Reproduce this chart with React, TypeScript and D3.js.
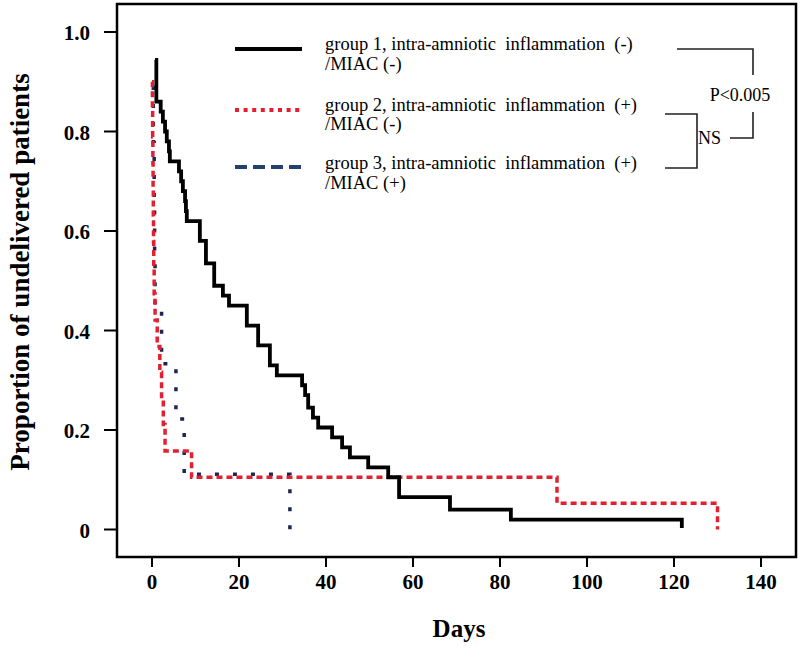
import * as d3 from "d3";

type Pt = { t: number; s: number };

// Kaplan-Meier steps: [day, proportion after the drop]
const GROUP1: Pt[] = [
  { t: 0.7, s: 0.944 }, { t: 1.0, s: 0.86 }, { t: 2.0, s: 0.84 }, { t: 2.5, s: 0.82 },
  { t: 3.0, s: 0.8 }, { t: 3.4, s: 0.78 }, { t: 3.9, s: 0.76 }, { t: 4.1, s: 0.74 },
  { t: 6.2, s: 0.72 }, { t: 6.7, s: 0.7 }, { t: 7.1, s: 0.68 }, { t: 7.6, s: 0.66 },
  { t: 7.8, s: 0.64 }, { t: 8.0, s: 0.62 }, { t: 11.0, s: 0.58 }, { t: 12.4, s: 0.535 },
  { t: 14.3, s: 0.49 }, { t: 16.3, s: 0.47 }, { t: 17.7, s: 0.45 }, { t: 21.8, s: 0.41 },
  { t: 24.4, s: 0.37 }, { t: 27.1, s: 0.33 }, { t: 28.7, s: 0.31 }, { t: 34.5, s: 0.29 },
  { t: 35.2, s: 0.27 }, { t: 35.9, s: 0.245 }, { t: 37.0, s: 0.225 }, { t: 38.2, s: 0.205 },
  { t: 41.4, s: 0.185 }, { t: 43.7, s: 0.165 }, { t: 45.5, s: 0.145 }, { t: 49.7, s: 0.125 },
  { t: 54.3, s: 0.105 }, { t: 56.8, s: 0.065 }, { t: 68.5, s: 0.04 }, { t: 82.5, s: 0.02 },
  { t: 121.8, s: 0.003 },
];

const GROUP2: Pt[] = [
  { t: 0.0, s: 0.9 }, { t: 0.1, s: 0.842 }, { t: 0.15, s: 0.789 }, { t: 0.2, s: 0.737 },
  { t: 0.25, s: 0.684 }, { t: 0.3, s: 0.632 }, { t: 0.35, s: 0.579 }, { t: 0.4, s: 0.526 },
  { t: 0.5, s: 0.474 }, { t: 0.7, s: 0.421 }, { t: 1.2, s: 0.368 }, { t: 1.8, s: 0.316 },
  { t: 2.2, s: 0.263 }, { t: 2.6, s: 0.211 }, { t: 3.0, s: 0.158 }, { t: 9.1, s: 0.105 },
  { t: 93.1, s: 0.053 }, { t: 130.0, s: 0.0 },
];

const GROUP3: Pt[] = [
  { t: 0.0, s: 0.889 }, { t: 0.3, s: 0.778 }, { t: 0.5, s: 0.667 }, { t: 0.6, s: 0.556 },
  { t: 0.7, s: 0.444 }, { t: 2.2, s: 0.333 }, { t: 5.5, s: 0.222 }, { t: 7.4, s: 0.111 },
  { t: 31.7, s: 0.0 },
];

const X_TICKS = [0, 20, 40, 60, 80, 100, 120, 140];
const Y_TICKS = [0, 0.2, 0.4, 0.6, 0.8, 1.0];
const Y_TICK_LABELS = ["0", "0.2", "0.4", "0.6", "0.8", "1.0"];

const LEGEND_LINE1 = [
  "group 1, intra-amniotic  inflammation  (-)",
  "group 2, intra-amniotic  inflammation  (+)",
  "group 3, intra-amniotic  inflammation  (+)",
];
const LEGEND_LINE2 = ["/MIAC (-)", "/MIAC (-)", "/MIAC (+)"];

const SERIF = "'Liberation Serif', 'Times New Roman', serif";

export default function App() {
  const W = 800;
  const H = 650;
  const frame = { left: 117, top: 4, right: 796, bottom: 557 };

  const x = d3.scaleLinear().domain([0, 140]).range([152, 761]);
  const y = d3.scaleLinear().domain([0, 1]).range([529.5, 32]);

  const line = d3
    .line<Pt>()
    .x((d) => x(d.t))
    .y((d) => y(d.s))
    .curve(d3.curveStepAfter);

  const red = "#e3202f";
  const navyLegend = "#24406e";
  const navyPlot = "#1c2554";

  const legendSym = [
    { y: 49, stroke: "#000", dash: "none", w: 4 },
    { y: 110, stroke: red, dash: "4,4.6", w: 4 },
    { y: 167, stroke: navyLegend, dash: "12,6", w: 4 },
  ];
  const base1 = [50, 111, 169];
  const base2 = [70, 130, 189];

  return (
    <svg
      width={W}
      height={H}
      viewBox={`0 0 ${W} ${H}`}
      style={{ position: "absolute", left: 0, top: 0, background: "#fff" }}
      fontFamily={SERIF}
    >
      <rect x={0} y={0} width={W} height={H} fill="#fff" />

      {/* curves */}
      <path d={line(GROUP3) ?? ""} fill="none" stroke={navyPlot} strokeWidth={3.5} strokeDasharray="4,14" />
      <path d={line(GROUP2) ?? ""} fill="none" stroke={red} strokeWidth={3.5} strokeDasharray="6,4" />
      <path d={line(GROUP1) ?? ""} fill="none" stroke="#000" strokeWidth={3.8} />

      {/* frame */}
      <rect
        x={frame.left}
        y={frame.top}
        width={frame.right - frame.left}
        height={frame.bottom - frame.top}
        fill="none"
        stroke="#000"
        strokeWidth={2.5}
      />

      {/* x axis */}
      {X_TICKS.map((t) => (
        <g key={"x" + t}>
          <line x1={x(t)} x2={x(t)} y1={frame.bottom} y2={frame.bottom + 10} stroke="#000" strokeWidth={2} />
          <text x={x(t)} y={589} textAnchor="middle" fontSize={21} fontWeight="bold">
            {t}
          </text>
        </g>
      ))}
      <text x={459} y={637} textAnchor="middle" fontSize={25} fontWeight="bold">
        Days
      </text>

      {/* y axis */}
      {Y_TICKS.map((v, i) => (
        <g key={"y" + v}>
          <line x1={frame.left - 13} x2={frame.left} y1={y(v)} y2={y(v)} stroke="#000" strokeWidth={2} />
          <text x={90} y={y(v) + 8} textAnchor="end" fontSize={21} fontWeight="bold">
            {Y_TICK_LABELS[i]}
          </text>
        </g>
      ))}
      <text
        transform="translate(29,272) rotate(-90)"
        textAnchor="middle"
        fontSize={27}
        fontWeight="bold"
      >
        Proportion of undelivered patients
      </text>

      {/* legend */}
      {legendSym.map((s, i) => (
        <g key={"lg" + i}>
          <line x1={235} x2={302} y1={s.y} y2={s.y} stroke={s.stroke} strokeWidth={s.w} strokeDasharray={s.dash} />
          <text x={325} y={base1[i]} fontSize={18.5} style={{ whiteSpace: "pre" }}>
            {LEGEND_LINE1[i]}
          </text>
          <text x={325} y={base2[i]} fontSize={18.5}>
            {LEGEND_LINE2[i]}
          </text>
        </g>
      ))}

      {/* significance brackets */}
      <g fill="none" stroke="#222" strokeWidth={1.6}>
        <polyline points="677,49 753,49 753,75" />
        <polyline points="753,112 753,138 730,138" />
        <polyline points="665,114 697,114 697,168 665,168" />
      </g>
      <text x={740} y={101} textAnchor="middle" fontSize={18}>
        P&lt;0.005
      </text>
      <text x={698} y={144} fontSize={18}>
        NS
      </text>
    </svg>
  );
}
